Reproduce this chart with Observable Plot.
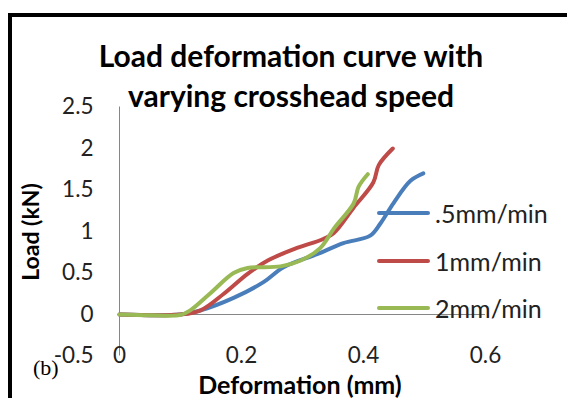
<!DOCTYPE html>
<html>
<head>
<meta charset="utf-8">
<script src="https://cdn.jsdelivr.net/npm/d3@7"></script>
<script src="https://cdn.jsdelivr.net/npm/@observablehq/plot@0.6"></script>
<style>
  html, body { margin: 0; padding: 0; background: #fff; }
  #wrap { position: relative; width: 567px; height: 398px; overflow: hidden; background: #fff; font-family: Lato, "Open Sans", sans-serif; }
  #frame { position: absolute; left: 8px; top: 13px; width: 700px; height: 600px; border-left: 4px solid #000; border-top: 4px solid #000; }
  #chart { position: absolute; left: 0; top: 0; }
  .title { position: absolute; left: 0; width: 582px; text-align: center; font-weight: bold; font-size: 30px; color: #000; white-space: nowrap; }
  .ylab { position: absolute; left: 30px; top: 232px; transform: translate(-50%, -50%) rotate(-90deg); font-weight: bold; font-size: 23px; white-space: nowrap; color: #000; }
  .xlab { position: absolute; left: 300px; top: 384px; transform: translate(-50%, -50%); font-weight: bold; font-size: 25px; white-space: nowrap; color: #000; }
  .blab { position: absolute; left: 33px; top: 368px; transform: translateY(-50%); font-family: "Liberation Serif", serif; font-size: 22px; color: #000; }
  .leg { position: absolute; left: 377px; height: 28px; display: flex; align-items: center; font-size: 25px; color: #222; white-space: nowrap; transform: translateY(-50%); }
  .leg span.sw { display: inline-block; width: 53px; height: 4px; border-radius: 2px; margin-right: 5px; }
</style>
</head>
<body>
<div id="wrap">
  <div id="frame"></div>
  <div id="chart"></div>
  <div class="title" style="top:55px; transform: translateY(-50%);">Load deformation curve with</div>
  <div class="title" style="top:95px; transform: translateY(-50%);">varying crosshead speed</div>
  <div class="ylab">Load (kN)</div>
  <div class="xlab">Deformation (mm)</div>
  <div class="blab">(b)</div>
  <div id="legend"></div>
</div>
<script>
const seriesNames = [".5mm/min", "1mm/min", "2mm/min"];
const seriesColors = ["#4a7ebb", "#be4b48", "#98b954"];

const blueX = [0, 0.10, 0.133, 0.187, 0.236, 0.269, 0.325, 0.367, 0.411, 0.428, 0.449, 0.477, 0.498];
const blueY = [0, 0, 0.05, 0.20, 0.39, 0.57, 0.73, 0.86, 0.95, 1.10, 1.34, 1.61, 1.70];

const redX = [0, 0.10, 0.133, 0.171, 0.21, 0.243, 0.287, 0.334, 0.351, 0.384, 0.416, 0.425, 0.448];
const redY = [0, 0, 0.05, 0.25, 0.49, 0.65, 0.79, 0.91, 0.98, 1.29, 1.59, 1.80, 2.00];

const greenX = [0, 0.05, 0.10, 0.116, 0.148, 0.187, 0.21, 0.264, 0.297, 0.329, 0.352, 0.384, 0.392, 0.407];
const greenY = [0, -0.01, -0.005, 0.05, 0.25, 0.50, 0.56, 0.58, 0.65, 0.80, 1.04, 1.34, 1.54, 1.69];

const xTicks = [0, 0.2, 0.4, 0.6];
const xTickLabels = ["0", "0.2", "0.4", "0.6"];
const yTicks = [-0.5, 0, 0.5, 1, 1.5, 2, 2.5];
const yTickLabels = ["-0.5", "0", "0.5", "1", "1.5", "2", "2.5"];

const xs = [blueX, redX, greenX];
const ys = [blueY, redY, greenY];
const data = [];
seriesNames.forEach((name, i) => {
  xs[i].forEach((x, j) => data.push({series: name, x, y: ys[i][j]}));
});

const chart = Plot.plot({
  width: 567,
  height: 398,
  marginLeft: 119,
  marginRight: 82,
  marginTop: 106.5,
  marginBottom: 42.5,
  x: {domain: [0, 0.6], axis: null},
  y: {domain: [-0.5, 2.5], axis: null},
  color: {domain: seriesNames, range: seriesColors},
  style: {background: "transparent", fontFamily: "Lato, sans-serif", fontSize: "22px", color: "#222", overflow: "visible"},
  marks: [
    Plot.ruleX([0], {y1: -0.5, y2: 2.5, stroke: "#868686", strokeWidth: 1}),
    Plot.ruleY([0], {x1: 0, x2: 0.6, stroke: "#868686", strokeWidth: 1}),
    Plot.line(data, {x: "x", y: "y", z: "series", stroke: "series", curve: "catmull-rom", strokeWidth: 4, strokeLinecap: "round", strokeLinejoin: "round"}),
    Plot.text(yTicks, {x: 0, y: d => d, text: (d, i) => yTickLabels[i], dx: -26, textAnchor: "end", fill: "#222", fontSize: 22.5}),
    Plot.text(xTicks, {x: d => d, y: -0.5, text: (d, i) => xTickLabels[i], fill: "#222", fontSize: 22.5})
  ]
});
document.getElementById("chart").appendChild(chart);

const legendY = [213, 261, 308];
const legend = document.getElementById("legend");
seriesNames.forEach((name, i) => {
  const row = document.createElement("div");
  row.className = "leg";
  row.style.top = legendY[i] + "px";
  row.innerHTML = `<span class="sw" style="background:${seriesColors[i]}"></span><span>${name}</span>`;
  legend.appendChild(row);
});
</script>
</body>
</html>
